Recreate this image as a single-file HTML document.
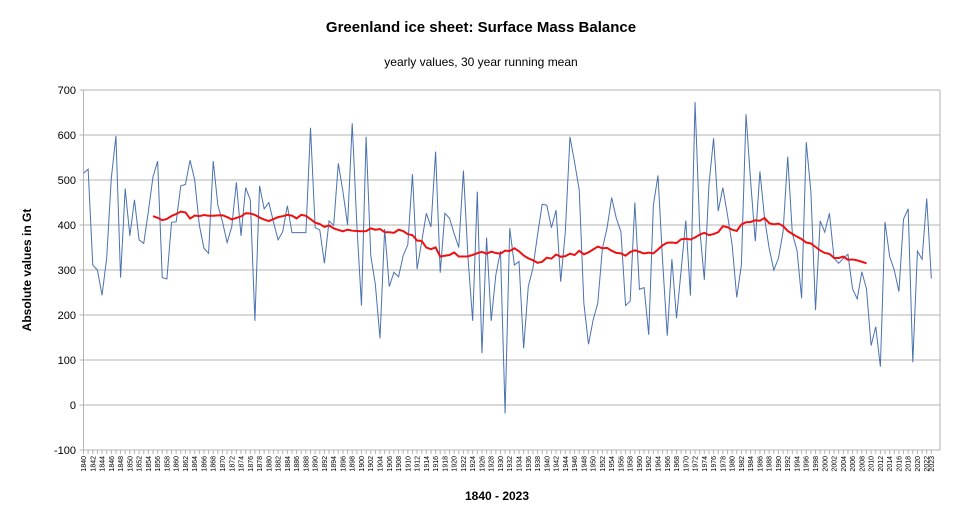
<!DOCTYPE html>
<html><head><meta charset="utf-8"><style>
html,body{margin:0;padding:0;background:#fff;}
svg{display:block;font-family:"Liberation Sans",sans-serif;}
</style></head><body>
<svg id="chart" width="962" height="520" viewBox="0 0 962 520" xmlns="http://www.w3.org/2000/svg">
<rect x="0" y="0" width="962" height="520" fill="#fff"/>
<text x="481" y="32" text-anchor="middle" font-size="15" font-weight="bold">Greenland ice sheet: Surface Mass Balance</text>
<text x="481" y="66" text-anchor="middle" font-size="12">yearly values, 30 year running mean</text>
<text transform="translate(31,270) rotate(-90)" text-anchor="middle" font-size="12" font-weight="bold">Absolute values in Gt</text>
<text x="497" y="500" text-anchor="middle" font-size="12" font-weight="bold">1840 - 2023</text>
<g id="grid"></g><g id="ylabels"></g><g id="xlabels"></g><g id="series"></g>
</svg>
<script>
const firstYear = 1840;
const smbValues = [515,524,311,300,244,326,504,598,283,481,376,456,367,359,430,507,542,283,280,406,407,487,490,544,500,400,348,337,542,444,407,361,396,495,376,483,456,187,487,436,450,407,367,385,443,383,383,383,383,616,394,389,315,409,399,537,474,400,626,400,221,596,333,267,148,391,263,295,285,332,356,513,302,363,426,396,563,294,426,415,381,350,521,326,187,474,115,372,187,289,342,-19,393,311,319,126,263,304,378,446,444,394,433,274,385,596,539,478,226,135,189,226,348,393,461,415,385,221,231,450,257,261,156,444,510,319,154,324,193,300,410,243,673,393,278,489,593,431,483,422,356,239,311,646,496,364,519,415,348,300,326,385,552,381,344,237,584,474,211,409,384,426,326,315,326,335,258,236,296,258,132,174,85,407,330,300,252,413,436,95,342,324,459,281];
const yTicks = [-100,0,100,200,300,400,500,600,700];
const windowSize = 30;

const NS='http://www.w3.org/2000/svg';
const L=83.5,R=940,T=90,B=450,step=4.633;
const ymin=-100,ymax=700;
function xPos(i){return L+step*i;}
function yPos(v){return B-(v-ymin)/(ymax-ymin)*(B-T);}
function mk(tag,attrs,parent){const e=document.createElementNS(NS,tag);for(const k in attrs)e.setAttribute(k,attrs[k]);parent.appendChild(e);return e;}
const grid=document.getElementById('grid'),yl=document.getElementById('ylabels'),xl=document.getElementById('xlabels'),ser=document.getElementById('series');
yTicks.forEach(v=>{
  const y=yPos(v);
  const g=mk('line',{x1:L-4,x2:R,y1:y,y2:y,stroke:'#b3b3b3','stroke-width':1},grid);
  
  
  const t=mk('text',{x:76,y:y+4,'text-anchor':'end','font-size':11},yl);
  t.textContent=v;
  
  
});
const fr=mk('line',{x1:R,x2:R,y1:T,y2:B,stroke:'#b3b3b3'},grid);


const ax=mk('line',{x1:L,x2:L,y1:T,y2:B,stroke:'#b3b3b3'},grid);


smbValues.forEach((v,i)=>{
  const x=xPos(i);
  mk('line',{x1:x,x2:x,y1:B,y2:B+4,stroke:'#b3b3b3'},grid);
  const yr=firstYear+i;
  if(i%2===0||i===smbValues.length-1){
    const t=mk('text',{transform:`translate(${x+2.5},${B+6}) rotate(-90)`,'text-anchor':'end','font-size':7},xl);
    t.textContent=yr;
    
    
  }
});
const p=mk('polyline',{points:smbValues.map((v,i)=>xPos(i)+','+yPos(v)).join(' '),fill:'none',stroke:'#4a72b0','stroke-width':1},ser);


const mean=[];
for(let s=0;s+windowSize<=smbValues.length;s++){
  let sum=0;for(let k=s;k<s+windowSize;k++)sum+=smbValues[k];
  mean.push([s+windowSize/2,sum/windowSize]);
}
const m=mk('polyline',{points:mean.map(([i,v])=>xPos(i)+','+yPos(v)).join(' '),fill:'none',stroke:'#ee1111','stroke-width':2},ser);


</script>
</body></html>
